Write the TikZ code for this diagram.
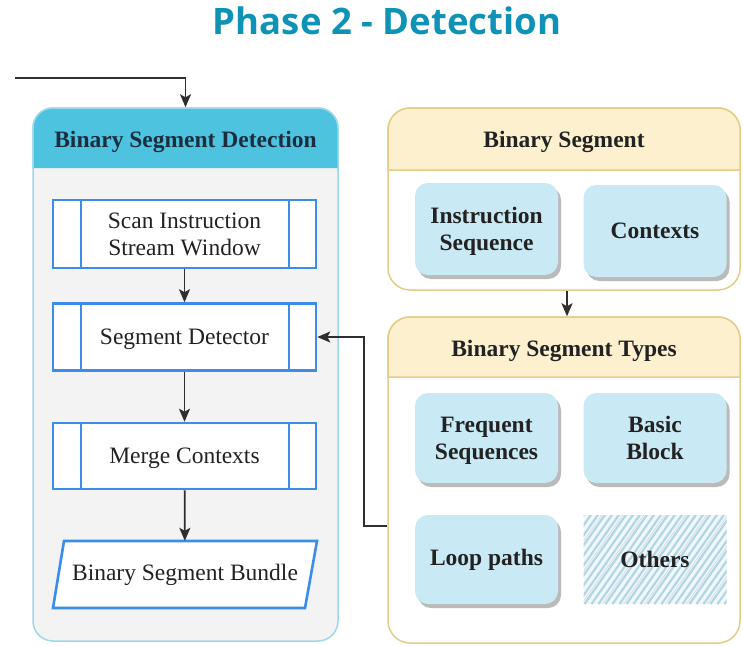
\documentclass[tikz,border=0pt]{standalone}
\usepackage{fontspec}
\setmainfont{Liberation Serif}
\newfontfamily\titlefont{Open Sans}
\usetikzlibrary{shadows,arrows.meta}

\definecolor{titleblue}{HTML}{0E93B6}
\definecolor{cyanhead}{HTML}{4EC3E0}
\definecolor{cyanedge}{HTML}{9BD8E9}
\definecolor{panelgray}{HTML}{F3F3F3}
\definecolor{procblue}{HTML}{3C8CEA}
\definecolor{yellowhead}{HTML}{FDF0CF}
\definecolor{yellowedge}{HTML}{E4CD88}
\definecolor{itemblue}{HTML}{C9E9F5}
\definecolor{hatchblue}{HTML}{B4D5E4}
\definecolor{inkdark}{HTML}{222222}
\definecolor{inknavy}{HTML}{1C2E3E}
\definecolor{wire}{HTML}{2E2E2E}

\tikzset{
  txt/.style={font=\fontsize{23.5}{27}\selectfont, text=inkdark, align=center},
  boldtxt/.style={txt, font=\fontsize{23.5}{27}\selectfont\bfseries},
  procbox/.style={txt, draw=procblue, line width=2.6pt, fill=white,
    minimum width=263pt, inner sep=0pt, text depth=0pt,
    path picture={
      \draw[procblue, line width=2.6pt]
        ([xshift=28pt]path picture bounding box.north west) --
        ([xshift=28pt]path picture bounding box.south west);
      \draw[procblue, line width=2.6pt]
        ([xshift=-27pt]path picture bounding box.north east) --
        ([xshift=-27pt]path picture bounding box.south east);
    }},
  dataedge/.style={draw=procblue, line width=2.6pt, fill=white, line join=miter},
  datatext/.style={txt, minimum width=252pt, minimum height=67pt, inner sep=0pt},
  itembox/.style={boldtxt, fill=itemblue, rounded corners=13pt,
    minimum width=143pt, inner sep=0pt,
    drop shadow={shadow xshift=3pt, shadow yshift=-4pt, fill=black!45, opacity=.6}},
  hatchbox/.style={boldtxt, minimum width=143pt, minimum height=89pt, inner sep=0pt,
    fill=white,
    path picture={
      \fill[itemblue!30] (path picture bounding box.south west) rectangle (path picture bounding box.north east);
      \foreach \i in {-90,-83,...,160}
        \draw[hatchblue, line width=2.2pt]
          ([xshift=\i pt]path picture bounding box.south west) -- ++(70pt,100pt);
      \foreach \i in {-86,-65,...,160}
        \draw[black!15, line width=0.7pt]
          ([xshift=\i pt]path picture bounding box.south west) -- ++(70pt,100pt);
    }},
  arrow/.style={draw=wire, line width=1.8pt, -{Stealth[length=13pt,width=11pt,inset=3pt]}},
}

\begin{document}
\begin{tikzpicture}[x=1pt,y=-1pt]
\useasboundingbox (0,0) rectangle (743,645);

% title
\node[font=\titlefont\fontsize{36.5}{40}\selectfont\bfseries, text=titleblue] (title) at (387,21) {Phase 2 - Detection};

% ---------- detection panel ----------
\node[draw=cyanedge, line width=1.5pt, fill=panelgray, rounded corners=20pt,
      minimum width=305pt, minimum height=533pt, inner sep=0pt] (det) at (185.5,374.5) {};
\fill[cyanhead] (33,168) [rounded corners=20pt] -- (33,108) -- (338,108) [sharp corners] -- (338,168) -- cycle;
\draw[cyanedge, line width=1.5pt] (33,168) [rounded corners=20pt] -- (33,108) -- (338,108) [sharp corners] -- (338,168);
\node[boldtxt, text=inknavy] (dethead) at (185.5,142) {Binary Segment Detection};

\node[procbox, minimum height=68pt] (scan) at (184.5,234) {Scan Instruction\\Stream Window};
\node[procbox, minimum height=67pt] (segdet) at (184.5,337) {Segment Detector};
\node[procbox, minimum height=66pt] (merge) at (184.5,456) {Merge Contexts};

% output bundle (parallelogram)
\path[dataedge] (64,541) -- (317,541) -- (305,608) -- (53,608) -- cycle;
\node[datatext] (bundle) at (185,574.5) {Binary Segment Bundle};

% ---------- binary segment panel ----------
\node[draw=yellowedge, line width=1.5pt, fill=white, rounded corners=22pt,
      minimum width=352pt, minimum height=182pt, inner sep=0pt] (bs) at (564,199) {};
\fill[yellowhead] (388,170) [rounded corners=22pt] -- (388,108) -- (740,108) [sharp corners] -- (740,170) -- cycle;
\draw[yellowedge, line width=1.5pt] (388,170) [rounded corners=22pt] -- (388,108) -- (740,108) [sharp corners] -- (740,170) -- cycle;
\node[boldtxt] (bshead) at (564,142) {Binary Segment};

\node[itembox, minimum height=92pt, text depth=0pt] (iseq) at (486.5,229) {Instruction\\Sequence};
\node[itembox, minimum height=92pt] (ctx) at (655,231) {Contexts};

% ---------- segment types panel ----------
\node[draw=yellowedge, line width=1.5pt, fill=white, rounded corners=22pt,
      minimum width=352pt, minimum height=326pt, inner sep=0pt] (bst) at (564,480) {};
\fill[yellowhead] (388,377) [rounded corners=22pt] -- (388,317) -- (740,317) [sharp corners] -- (740,377) -- cycle;
\draw[yellowedge, line width=1.5pt] (388,377) [rounded corners=22pt] -- (388,317) -- (740,317) [sharp corners] -- (740,377) -- cycle;
\node[boldtxt] (bsthead) at (564,351) {Binary Segment Types};

\node[itembox, minimum height=90pt, text depth=0pt] (freq) at (486.5,438) {Frequent\\Sequences};
\node[itembox, minimum height=90pt, text depth=0pt] (basic) at (655,438) {Basic\\Block};
\node[itembox, minimum height=89pt] (loop) at (486.5,559.5) {Loop paths};
\node[hatchbox] (others) at (655,559.5) {Others};

% ---------- connectors ----------
\coordinate (entry) at (15,78);
\draw[arrow] (entry) -| (det.north);
\draw[arrow] (scan) -- (segdet);
\draw[arrow] (segdet) -- (merge);
\draw[arrow] (merge) -- (bundle);
\draw[arrow] ([xshift=3pt]bs.south) -- ([xshift=3pt]bst.north);
\draw[arrow] ([yshift=-46pt]bst.west) -- ++(-23,0) |- (segdet.east);
\end{tikzpicture}
\end{document}
